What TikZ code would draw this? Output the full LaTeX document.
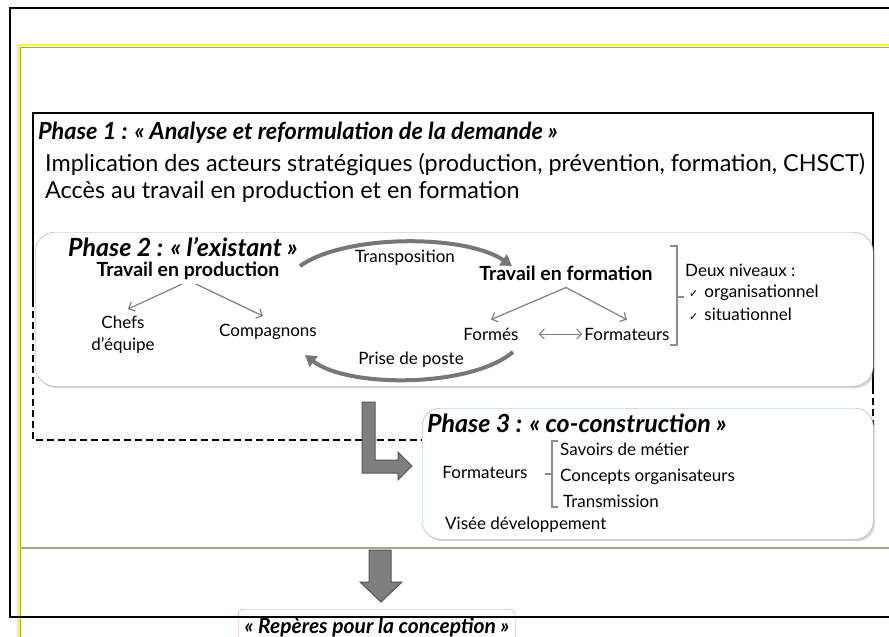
\documentclass[tikz,border=0pt]{standalone}
\usepackage{fontspec}
\setmainfont{Lato}
\newfontfamily\checkfont{DejaVu Sans}
\usetikzlibrary{arrows.meta,shadows,calc}
\definecolor{ygold}{HTML}{FFFF00}
\definecolor{shadegrey}{HTML}{9A9A9A}
\definecolor{oliveline}{HTML}{A8A88C}
\definecolor{boxgrey}{HTML}{A6A6A6}
\definecolor{phasegreen}{HTML}{6DCB8C}
\definecolor{boxred}{HTML}{D48A8A}
\definecolor{arrowgrey}{HTML}{7F7F7F}
\definecolor{curvegrey}{HTML}{777777}
\definecolor{blockfill}{HTML}{7F7F7F}
\definecolor{blockedge}{HTML}{555555}
\definecolor{bracegrey}{HTML}{8C8C8C}
\newcommand\fsz[2]{\fontsize{#1}{#2}\selectfont}
\begin{document}
\begin{tikzpicture}[x=1pt,y=-1pt,
  txt/.style={inner sep=0pt,font=\fsz{17}{20}},
  bigtxt/.style={inner sep=0pt,font=\fsz{23.4}{27}},
  ttl/.style={inner sep=0pt,font=\fsz{23.5}{27}\bfseries\itshape},
  ttlb/.style={inner sep=0pt,font=\fsz{25}{29}\bfseries\itshape},
  subttl/.style={inner sep=0pt,font=\fsz{19.5}{23}\bfseries},
  garrow/.style={draw=arrowgrey,line width=1.2pt,-{Straight Barb[length=5pt,width=10pt]}},
  dblarrow/.style={draw=arrowgrey,line width=1pt,{Straight Barb[length=5pt,width=10pt]}-{Straight Barb[length=5pt,width=10pt]}},
  curvearrow/.style={draw=curvegrey,line width=4pt,-{Triangle[length=11pt,width=13pt]}},
  blockarrow/.style={fill=blockfill,draw=blockedge,line width=1pt},
  bracket/.style={draw=bracegrey,line width=1.2pt},
  phasebox/.style={fill=white,inner sep=0pt,anchor=north west,drop shadow={shadow xshift=2pt,shadow yshift=-2pt,opacity=0.3}},
  dashline/.style={line width=2pt,dash pattern=on 7pt off 4pt}
]
\useasboundingbox (0,0) rectangle (889,637);

% yellow frame
\draw[shadegrey,line width=1pt] (20.5,637) -- (20.5,47.5) -- (889,47.5);
\draw[ygold,line width=2pt] (18,637) -- (18,45) -- (889,45);
\draw[oliveline,line width=2pt] (20,548) -- (889,548);

% Phase 1 frame
\draw[line width=1.5pt] (33,300) -- (33,113) -- (873,113) -- (873,387);
\draw[dashline] (33,300) -- (33,440) -- (422,440);
\draw[dashline] (873,387) -- (873,425);

\node[ttl,anchor=base west] (t1) at (38,139) {Phase 1 : « Analyse et reformulation de la demande »};
\node[bigtxt,anchor=base west] (l1) at (45,171) {Implication des acteurs stratégiques (production, prévention, formation, CHSCT)};
\node[bigtxt,anchor=base west] (l2) at (45,198) {Accès au travail en production et en formation};

% Phase 2
\node[phasebox,draw=boxgrey,rounded corners=20pt,minimum width=838pt,minimum height=154pt] (p2) at (35,232) {};
\node[ttlb,anchor=base] (t2) at (183,256) {Phase 2 : « l’existant »};
\node[subttl] (tp) at (188,271) {Travail en production};
\node[subttl] (tf) at (566,273) {Travail en formation};
\node[txt,align=center,font=\fsz{17}{22}] (chefs) at (123,335) {Chefs\\d’équipe};
\node[txt] (comp) at (268,332) {Compagnons};
\node[txt] (formes) at (491,334) {Formés};
\node[txt] (formateurs) at (627,334) {Formateurs};
\node[txt] (transp) at (405,258) {Transposition};
\node[txt] (prise) at (411,360) {Prise de poste};
\node[txt,anchor=west] (deux) at (685,270) {Deux niveaux :};
\node[txt,anchor=west] (org) at (689,293) {{\checkfont\fsz{11}{13}✓}\hspace{6pt}organisationnel};
\node[txt,anchor=west] (sit) at (689,314) {{\checkfont\fsz{11}{13}✓}\hspace{6pt}situationnel};

\draw[garrow] ([xshift=-6pt,yshift=-4pt]tp.south) -- ([xshift=5pt,yshift=7pt]chefs.north);
\draw[garrow] ([xshift=8pt,yshift=-4pt]tp.south) -- ([xshift=-5pt,yshift=8pt]comp.north);
\draw[garrow] ([yshift=-7pt]tf.south) -- ([yshift=8pt]formes.north);
\draw[garrow] ([yshift=-7pt]tf.south) -- ([yshift=8pt]formateurs.north);
\draw[dblarrow] ([xshift=20pt]formes.east) -- ([xshift=-2pt]formateurs.west);

\coordinate (trA) at (300,266);
\coordinate (trB) at (512,266);
\draw[curvearrow] (trA) .. controls (345,234) and (465,234) .. (trB);
\coordinate (ppA) at (513,352);
\coordinate (ppB) at (305,355);
\draw[curvearrow] (ppA) .. controls (470,388) and (348,388) .. (ppB);

\draw[bracket] (670,246) -- (677,246) -- (677,345) -- (670,345);
\draw[bracket] (677,297) -- (684,297);

% Phase 3
\node[phasebox,draw=phasegreen,rounded corners=18pt,minimum width=451pt,minimum height=131pt] (p3) at (422,408) {};
\node[ttlb,anchor=west] (t3) at (427,423) {Phase 3 : « co-construction »};
\node[txt] (form3) at (485,472) {Formateurs};
\node[txt,anchor=west] (sav) at (560,449) {Savoirs de métier};
\node[txt,anchor=west] (conc) at (560,477) {Concepts organisateurs};
\node[txt,anchor=west] (trans) at (563,501) {Transmission};
\node[txt,anchor=west] (visee) at (445,525) {Visée développement};
\draw[bracket] (558,441) -- (552,441) -- (552,507) -- (558,507);
\draw[bracket] (545,474) -- (552,474);

% block arrows
\draw[blockarrow] (362,402) -- (375,402) -- (375,460) -- (398,460) -- (398,452) -- (412,466) -- (398,480) -- (398,473) -- (362,473) -- cycle;
\draw[blockarrow] (369,550) -- (391,550) -- (391,582) -- (402,582) -- (381,602) -- (360,582) -- (369,582) -- cycle;

% bottom box
\node[fill=white,draw=boxred,rounded corners=6pt,inner sep=0pt,anchor=north west,minimum width=277pt,minimum height=40pt] (p4) at (238,609) {};
\node[inner sep=0pt,font=\fsz{21}{24}\bfseries\itshape] (rep) at (377,627) {« Repères pour la conception »};

% outer frame
\draw[line width=2pt] (889,617) -- (10,617) -- (10,8) -- (889,8);
\end{tikzpicture}
\end{document}
